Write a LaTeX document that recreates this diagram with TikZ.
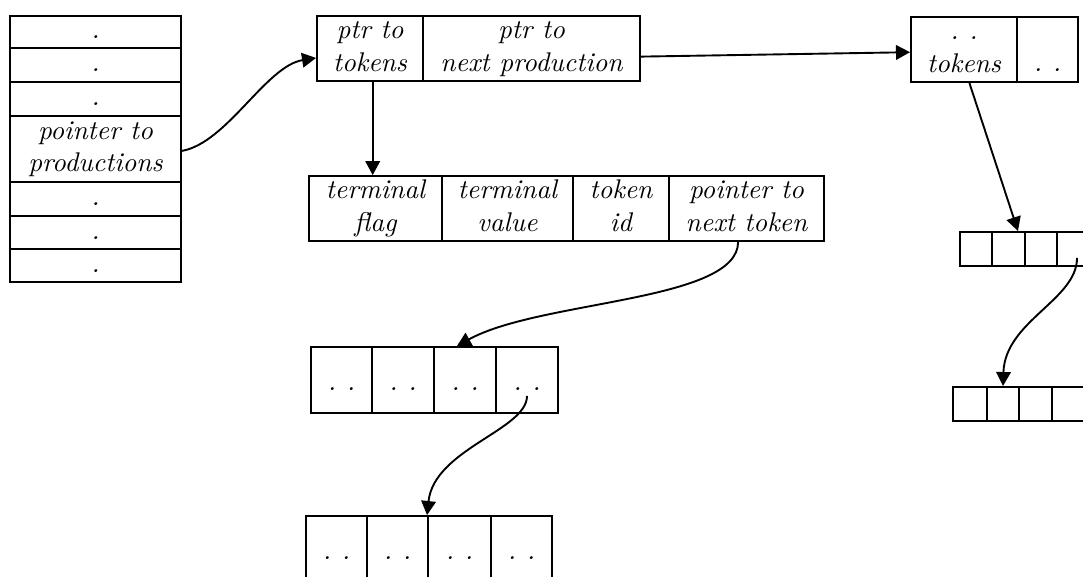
\documentclass[tikz,border=0pt]{standalone}
\usetikzlibrary{arrows.meta}

% one cell of a record: name, corners (x1,y1) (x2,y2), style, contents
\newcommand\cellfield[7]{%
  \node[cell,#6,
        minimum width={(#4-#2)*0.37pt},
        minimum height={(#5-#3)*0.37pt}]
    (#1) at ({(#2+#4)/2},{(#3+#5)/2}) {#7};}
\newcommand\recordcell[6]{\cellfield{#1}{#2}{#3}{#4}{#5}{#6}{}}

\tikzset{
  cell/.style={draw, line width=0.7pt, inner sep=0pt, align=center, font=\itshape},
  dotrow/.style={text height=5pt, text depth=0pt},
  dotpair/.style={text height=8pt, text depth=0pt},
  lowpair/.style={text height=16.5pt, text depth=0pt},
  plain/.style={},
  ptr/.style={line width=0.7pt, -{Triangle[length=5.2pt,width=5.4pt]}},
}

\begin{document}
\begin{tikzpicture}[x=0.37pt, y=-0.37pt]
  \useasboundingbox (0,0) rectangle (1083,577);
  \clip (0,0) rectangle (1083,577);

  % table of productions
  \cellfield{s1}{10}{16}{181}{48}{dotrow}{.}
  \cellfield{s2}{10}{48}{181}{82}{dotrow}{.}
  \cellfield{s3}{10}{82}{181}{116}{dotrow}{.}
  \cellfield{s4}{10}{116}{181}{182}{plain}{\strut pointer to\\\strut productions}
  \cellfield{s5}{10}{182}{181}{216}{dotrow}{.}
  \cellfield{s6}{10}{216}{181}{249}{dotrow}{.}
  \cellfield{s7}{10}{249}{181}{282}{dotrow}{.}

  % production record
  \cellfield{ptok}{317}{16}{423}{81}{plain}{\strut ptr to\\\strut tokens}
  \cellfield{pnext}{423}{16}{640}{81}{plain}{\strut ptr to\\\strut next production}

  % next production record
  \cellfield{rtok}{911}{17}{1017}{82}{plain}{\strut .\hspace{4pt}.\\\strut tokens}
  \cellfield{rnext}{1017}{17}{1078}{82}{lowpair}{.\hspace{4pt}.}

  % token record
  \cellfield{tflag}{309}{177}{442}{240}{plain}{\strut terminal\\\strut flag}
  \cellfield{tval}{442}{177}{573}{240}{plain}{\strut terminal\\\strut value}
  \cellfield{tid}{573}{177}{669}{240}{plain}{\strut token\\\strut id}
  \cellfield{tnext}{669}{177}{824}{240}{plain}{\strut pointer to\\\strut next token}

  % following token records
  \cellfield{ma1}{311}{347}{372}{413}{dotpair}{.\hspace{4pt}.}
  \cellfield{ma2}{372}{347}{434}{413}{dotpair}{.\hspace{4pt}.}
  \cellfield{ma3}{434}{347}{496}{413}{dotpair}{.\hspace{4pt}.}
  \cellfield{ma4}{496}{347}{558}{413}{dotpair}{.\hspace{4pt}.}

  \cellfield{mb1}{306}{516}{367}{582}{dotpair}{.\hspace{4pt}.}
  \cellfield{mb2}{367}{516}{428}{582}{dotpair}{.\hspace{4pt}.}
  \cellfield{mb3}{428}{516}{491}{582}{dotpair}{.\hspace{4pt}.}
  \cellfield{mb4}{491}{516}{552}{582}{dotpair}{.\hspace{4pt}.}

  % token records of the next production
  \recordcell{ra1}{960}{232}{992}{266}{plain}
  \recordcell{ra2}{992}{232}{1025}{266}{plain}
  \recordcell{ra3}{1025}{232}{1057}{266}{plain}
  \recordcell{ra4}{1057}{232}{1090}{266}{plain}

  \recordcell{rb1}{953}{387}{987}{421}{plain}
  \recordcell{rb2}{987}{387}{1019}{421}{plain}
  \recordcell{rb3}{1019}{387}{1052}{421}{plain}
  \recordcell{rb4}{1052}{387}{1085}{421}{plain}

  % pointers
  \draw[ptr] ([yshift=-0.7pt]s4.east) .. controls +(45,-8) and +(-50,8) .. ([yshift=-3.5pt]ptok.west);
  \draw[ptr] ([xshift=1pt]ptok.south) -- ([xshift=1pt]ptok.south |- tflag.north);
  \draw[ptr] ([yshift=-3pt]pnext.east) -- ([yshift=-1pt]rtok.west);
  \draw[ptr] ([xshift=2pt]rtok.south) -- ([xshift=3.5pt]ra2.north);
  \draw[ptr] ([xshift=1.3pt,yshift=-3.3pt]ra4.center) .. controls +(0,42) and +(2,-65) .. (rb2.north);
  \draw[ptr] ([xshift=-3.1pt]tnext.south) .. controls +(0,60) and +(83,-46) .. ([xshift=-3pt]ma3.north);
  \draw[ptr] ([yshift=-5.9pt]ma4.center) .. controls +(0,34) and +(7,-66) .. (mb3.north west);
\end{tikzpicture}
\end{document}
